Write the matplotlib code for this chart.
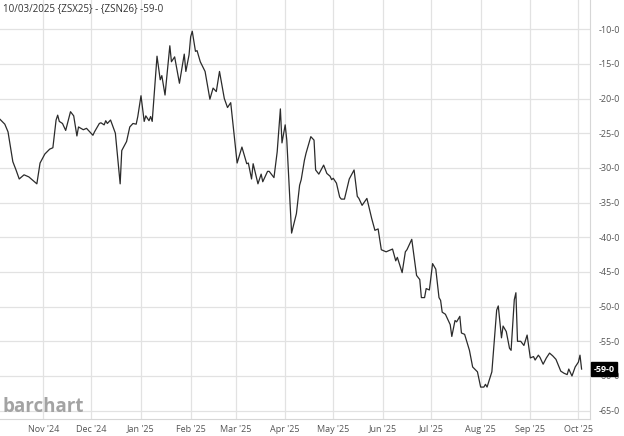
import matplotlib
matplotlib.use("Agg")
import matplotlib.pyplot as plt
import matplotlib.dates as mdates
import pandas as pd

# ---------------------------------------------------------------------
# Spread data (ZSX25 - ZSN26)
# ---------------------------------------------------------------------
dates = [
    "2024-10-05", "2024-10-08", "2024-10-10", "2024-10-13", "2024-10-15",
    "2024-10-17", "2024-10-20", "2024-10-23", "2024-10-25", "2024-10-28",
    "2024-10-30", "2024-11-02", "2024-11-05", "2024-11-07", "2024-11-09",
    "2024-11-10", "2024-11-11", "2024-11-13", "2024-11-15", "2024-11-18",
    "2024-11-20", "2024-11-22", "2024-11-23", "2024-11-26", "2024-11-28",
    "2024-11-30", "2024-12-02", "2024-12-03", "2024-12-06", "2024-12-07",
    "2024-12-09", "2024-12-10", "2024-12-11", "2024-12-13", "2024-12-16",
    "2024-12-19", "2024-12-20", "2024-12-23", "2024-12-25", "2024-12-27",
    "2024-12-29", "2024-12-30", "2025-01-01", "2025-01-03", "2025-01-04",
    "2025-01-06", "2025-01-07", "2025-01-08", "2025-01-11", "2025-01-13",
    "2025-01-14", "2025-01-16", "2025-01-19", "2025-01-20", "2025-01-22",
    "2025-01-25", "2025-01-28", "2025-01-29", "2025-01-31", "2025-02-01",
    "2025-02-02", "2025-02-04", "2025-02-05", "2025-02-07", "2025-02-10",
    "2025-02-13", "2025-02-15", "2025-02-17", "2025-02-19", "2025-02-22",
    "2025-02-24", "2025-02-26", "2025-03-02", "2025-03-05", "2025-03-08",
    "2025-03-09", "2025-03-11", "2025-03-12", "2025-03-15", "2025-03-17",
    "2025-03-18", "2025-03-21", "2025-03-22", "2025-03-25", "2025-03-27",
    "2025-03-29", "2025-03-30", "2025-04-01", "2025-04-02", "2025-04-05",
    "2025-04-08", "2025-04-10", "2025-04-11", "2025-04-13", "2025-04-14",
    "2025-04-17", "2025-04-19", "2025-04-20", "2025-04-22", "2025-04-25",
    "2025-04-27", "2025-04-29", "2025-04-30", "2025-05-01", "2025-05-03",
    "2025-05-05", "2025-05-06", "2025-05-08", "2025-05-11", "2025-05-14",
    "2025-05-16", "2025-05-17", "2025-05-19", "2025-05-22", "2025-05-25",
    "2025-05-27", "2025-05-29", "2025-05-31", "2025-06-03", "2025-06-07",
    "2025-06-09", "2025-06-10", "2025-06-13", "2025-06-15", "2025-06-16",
    "2025-06-19", "2025-06-22", "2025-06-24", "2025-06-25", "2025-06-27",
    "2025-06-28", "2025-06-30", "2025-07-02", "2025-07-04", "2025-07-06",
    "2025-07-07", "2025-07-08", "2025-07-10", "2025-07-13", "2025-07-14",
    "2025-07-16", "2025-07-17", "2025-07-19", "2025-07-20", "2025-07-22",
    "2025-07-25", "2025-07-27", "2025-07-30", "2025-08-01", "2025-08-03",
    "2025-08-04", "2025-08-05", "2025-08-08", "2025-08-10", "2025-08-11",
    "2025-08-12", "2025-08-14", "2025-08-15", "2025-08-17", "2025-08-19",
    "2025-08-20", "2025-08-22", "2025-08-23", "2025-08-24", "2025-08-26",
    "2025-08-28", "2025-08-30", "2025-09-01", "2025-09-03", "2025-09-04",
    "2025-09-06", "2025-09-07", "2025-09-09", "2025-09-11", "2025-09-13",
    "2025-09-15", "2025-09-17", "2025-09-20", "2025-09-22", "2025-09-24",
    "2025-09-25", "2025-09-27", "2025-09-29", "2025-10-01", "2025-10-02",
    "2025-10-03",
]

values = [
    -23.0, -23.7, -24.8, -29.1, -30.3,
    -31.6, -31.0, -31.3, -31.7, -32.3,
    -29.3, -28.0, -27.3, -27.1, -23.1,
    -22.4, -23.3, -23.6, -24.6, -21.9,
    -22.5, -25.4, -24.1, -24.5, -24.3,
    -24.8, -25.3, -24.8, -23.6, -23.5,
    -23.8, -23.2, -23.6, -23.1, -25.0,
    -32.3, -27.5, -26.2, -24.1, -23.6,
    -23.7, -22.6, -19.6, -23.3, -22.5,
    -23.2, -22.6, -23.3, -13.9, -17.3,
    -16.7, -19.5, -12.4, -14.7, -14.0,
    -17.8, -13.6, -16.1, -13.7, -11.1,
    -10.3, -13.2, -13.1, -14.7, -16.1,
    -20.1, -18.5, -19.0, -16.1, -20.0,
    -21.3, -20.6, -29.3, -27.0, -29.4,
    -29.3, -31.6, -29.4, -32.3, -30.9,
    -32.0, -30.5, -30.5, -31.4, -27.7,
    -21.5, -26.4, -23.8, -26.0, -39.4,
    -36.6, -32.5, -31.7, -28.9, -27.9,
    -25.5, -26.0, -30.3, -30.9, -29.6,
    -30.8, -31.2, -31.7, -31.5, -32.2,
    -34.2, -34.5, -34.5, -31.6, -30.3,
    -34.1, -34.4, -35.4, -34.4, -37.3,
    -39.0, -38.8, -41.8, -42.1, -41.7,
    -43.4, -42.9, -45.1, -42.1, -41.8,
    -40.3, -45.5, -46.1, -48.7, -48.7,
    -47.4, -47.6, -43.8, -44.6, -48.7,
    -49.1, -50.8, -51.1, -52.6, -54.3,
    -52.0, -52.2, -51.4, -53.8, -54.0,
    -56.3, -58.7, -59.4, -61.6, -61.6,
    -61.2, -61.6, -59.4, -53.6, -50.5,
    -49.9, -54.5, -52.8, -53.6, -56.0,
    -56.3, -49.0, -48.0, -55.0, -55.0,
    -55.6, -54.1, -57.4, -57.2, -57.7,
    -57.0, -57.3, -58.3, -57.4, -56.7,
    -57.1, -57.6, -59.3, -59.6, -59.8,
    -59.0, -60.0, -58.7, -58.0, -57.0,
    -59.0,
]

y_ticks = [-10, -15, -20, -25, -30, -35, -40, -45, -50, -55, -60, -65]
title_text = "10/03/2025 {ZSX25} - {ZSN26} -59-0"
last_label = "-59-0"

dates = pd.to_datetime(dates)

# ---------------------------------------------------------------------
# Figure
# ---------------------------------------------------------------------
plt.rcParams["font.family"] = ["Open Sans", "DejaVu Sans"]

fig = plt.figure(figsize=(6.24, 4.36), dpi=100)
ax = fig.add_axes([0.0, 1 - 419 / 436, 590 / 624, 419 / 436])

ax.plot(dates, values, color="#2b2b2b", linewidth=0.9)

ax.set_xlim(pd.Timestamp("2024-10-05"), pd.Timestamp("2025-10-08 06:00"))
ax.set_ylim(-66.2, -5.8)

# month gridlines / labels
ax.xaxis.set_major_locator(mdates.MonthLocator())
ax.xaxis.set_major_formatter(mdates.DateFormatter("%b '%y"))
ax.tick_params(axis="x", length=0, pad=4, labelsize=6.5, colors="#555555")

ax.yaxis.tick_right()
ax.set_yticks(y_ticks)
ax.set_yticklabels([f"{t}-0" for t in y_ticks])
ax.tick_params(axis="y", length=0, pad=6, labelsize=6.5, colors="#555555")

ax.grid(True, color="#e2e2e2", linewidth=0.9)
ax.set_axisbelow(True)

for side in ["top", "left"]:
    ax.spines[side].set_visible(False)
ax.spines["right"].set_color("#d6d6d6")
ax.spines["bottom"].set_color("#d6d6d6")

# title
ax.text(0.005, 0.992, title_text, transform=ax.transAxes, ha="left", va="top",
        fontsize=7, color="#333333")

# last value box
ax.annotate(last_label, xy=(1.0, values[-1]), xycoords=("axes fraction", "data"),
            xytext=(2.5, 0), textcoords="offset points", ha="left", va="center",
            fontsize=6.5, fontweight="bold", color="white",
            bbox=dict(boxstyle="square,pad=0.3", fc="black", ec="black"),
            annotation_clip=False)

# watermark
ax.text(0.004, 0.004, "barchart", transform=ax.transAxes, ha="left", va="bottom",
        fontsize=13.5, color="#a3a3a3", fontweight="bold")

fig.savefig("out.png", dpi=100)
